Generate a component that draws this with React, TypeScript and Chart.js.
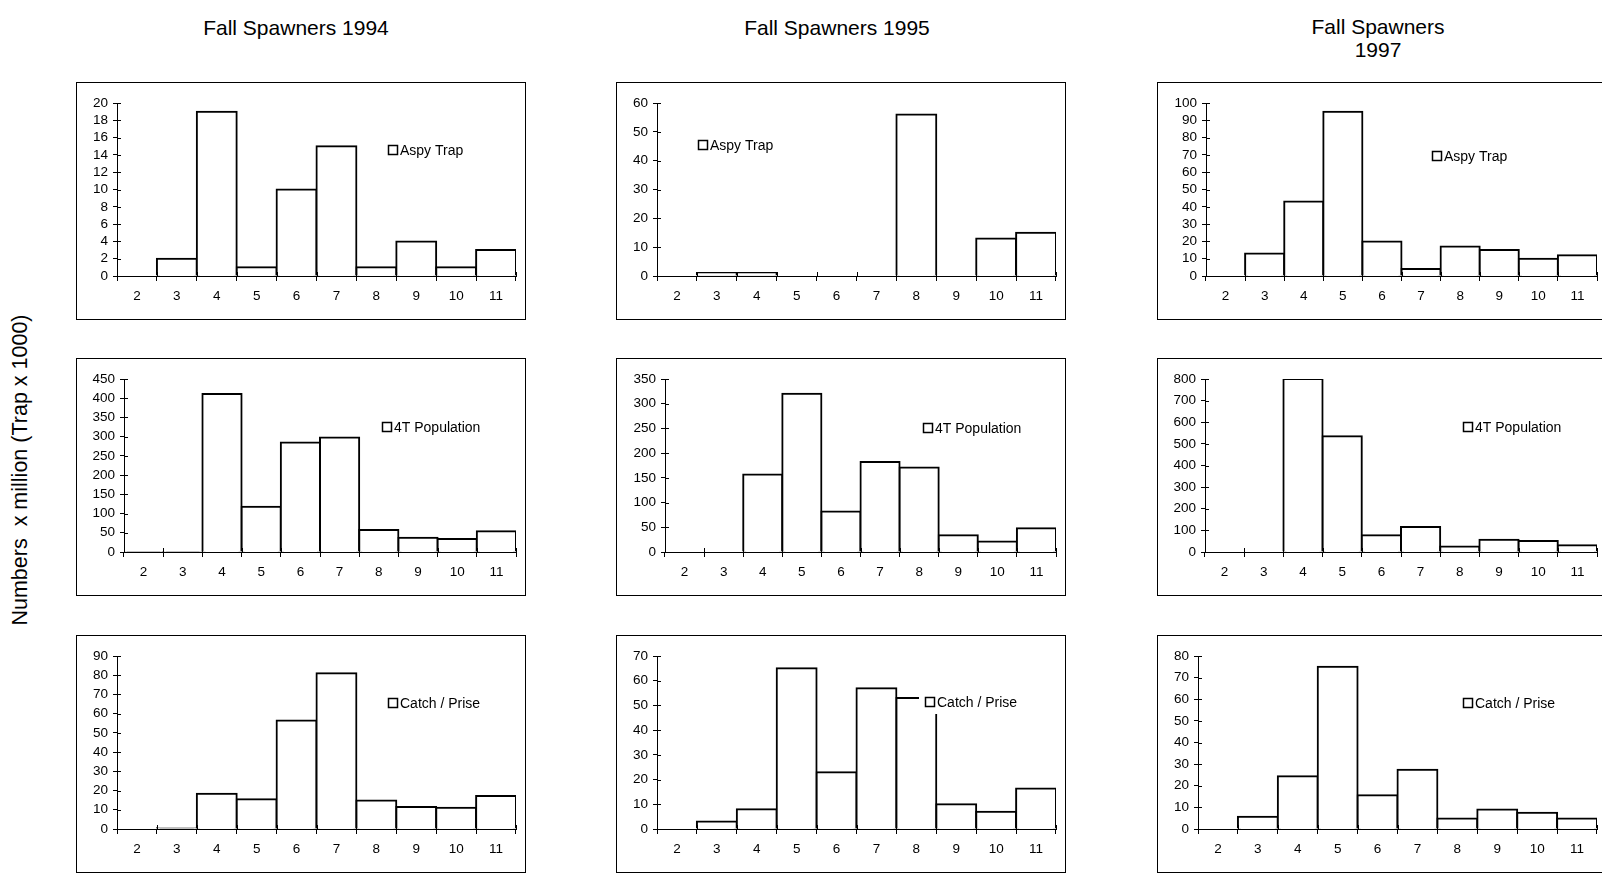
import React, { useEffect, useRef } from 'react';
import { Chart, registerables } from 'chart.js';

Chart.register(...registerables);

// Age classes on the horizontal axis
const AGES = ['2', '3', '4', '5', '6', '7', '8', '9', '10', '11'];

// Aspy trap counts (x 1000)
const TRAP_1994 = [0, 2, 19, 1, 10, 15, 1, 4, 1, 3];
const TRAP_1995 = [0, 1, 1, 0, 0, 0, 56, 0, 13, 15];
const TRAP_1997 = [0, 13, 43, 95, 20, 4, 17, 15, 10, 12];

// 4T population (millions)
const POP_1994 = [1, 1, 411, 118, 285, 298, 57, 37, 34, 54];
const POP_1995 = [0, 0, 157, 320, 82, 182, 171, 34, 21, 48];
const POP_1997 = [0, 0, 800, 535, 77, 116, 26, 57, 51, 31];

// Catch (millions)
const CATCH_1994 = [0, 0.4, 18.4, 15.5, 56.4, 81, 14.8, 11.4, 11, 17.2];
const CATCH_1995 = [0, 3, 8, 65, 23, 57, 53, 10, 7, 16.4];
const CATCH_1997 = [0, 5.7, 24.4, 75, 15.6, 27.4, 4.9, 9, 7.5, 4.8];

const SERIES_NAMES = ['Aspy Trap', '4T Population', 'Catch / Prise'];
const SERIES = [
  [TRAP_1994, TRAP_1995, TRAP_1997],
  [POP_1994, POP_1995, POP_1997],
  [CATCH_1994, CATCH_1995, CATCH_1997],
];
const Y_MAX = [[20, 60, 100], [450, 350, 800], [90, 70, 80]];
const Y_STEP = [[2, 10, 10], [50, 50, 100], [10, 10, 10]];

// Page layout
const FONT = '"Liberation Sans", Arial, Helvetica, sans-serif';
const TICK_SIZE = 13.5;
const LEGEND_SIZE = 14;
const COL_X = [76, 616, 1157];
const ROW_Y = [82, 358, 635];
const BOX_W = 450;
const BOX_H = 238;
const Y_AXIS_W = [[40, 40, 48], [47, 48, 47], [40, 40, 40]];
// legend marker left / centre y, in canvas pixels
const LEGEND_POS = [
  [[311, 67], [81, 62], [274, 73]],
  [[305, 68], [306, 69], [305, 68]],
  [[311, 67], [308, 66], [305, 67]],
];

// Tick marks that also reach into the plot area (crossing axis ticks)
const crossTicks = {
  id: 'crossTicks',
  afterDraw(chart: any) {
    const { ctx, chartArea, scales } = chart;
    const xs = scales.x;
    const ys = scales.y;
    ctx.save();
    ctx.strokeStyle = '#000';
    ctx.lineWidth = 1;
    ctx.beginPath();
    ys.ticks.forEach((_: any, i: number) => {
      const py = Math.round(ys.getPixelForTick(i)) + 0.5;
      ctx.moveTo(chartArea.left, py);
      ctx.lineTo(chartArea.left + 4, py);
    });
    for (let i = 0; i <= xs.ticks.length; i++) {
      const px = Math.round(xs.getPixelForValue(i - 0.5)) + 0.5;
      ctx.moveTo(px, chartArea.bottom);
      ctx.lineTo(px, chartArea.bottom - 4);
    }
    ctx.stroke();
    ctx.restore();
  },
};

// Small boxed legend placed inside the plot, with a white backing
const boxLegend = {
  id: 'boxLegend',
  afterDraw(chart: any, _args: any, opts: any) {
    const { ctx } = chart;
    const size = 9;
    const gap = 3;
    ctx.save();
    ctx.font = `${LEGEND_SIZE}px ${FONT}`;
    const tw = ctx.measureText(opts.text).width;
    ctx.fillStyle = '#fff';
    ctx.fillRect(opts.x - 6, opts.y - 12, size + gap + tw + 12, 24);
    ctx.strokeStyle = '#000';
    ctx.lineWidth = 1.5;
    ctx.strokeRect(opts.x + 0.5, opts.y - size / 2, size, size);
    ctx.fillStyle = '#000';
    ctx.textBaseline = 'middle';
    ctx.textAlign = 'left';
    ctx.fillText(opts.text, opts.x + size + gap, opts.y + 1);
    ctx.restore();
  },
};

function Panel({ row, col }: { row: number; col: number }) {
  const ref = useRef<HTMLCanvasElement | null>(null);

  useEffect(() => {
    if (!ref.current) return;
    const yWidth = Y_AXIS_W[row][col];
    const chart = new Chart(ref.current, {
      type: 'bar',
      data: {
        labels: AGES,
        datasets: [
          {
            label: SERIES_NAMES[row],
            data: SERIES[row][col],
            backgroundColor: '#ffffff',
            borderColor: '#000000',
            borderWidth: 2,
            borderSkipped: 'start',
            inflateAmount: 1,
            barPercentage: 1,
            categoryPercentage: 1,
          } as any,
        ],
      },
      options: {
        animation: false,
        responsive: false,
        maintainAspectRatio: false,
        events: [],
        layout: { padding: { top: 20, right: 9, left: 0, bottom: 0 } },
        plugins: {
          legend: { display: false },
          tooltip: { enabled: false },
          boxLegend: {
            text: SERIES_NAMES[row],
            x: LEGEND_POS[row][col][0],
            y: LEGEND_POS[row][col][1],
          },
        } as any,
        scales: {
          x: {
            offset: true,
            grid: {
              offset: true,
              drawOnChartArea: false,
              drawTicks: true,
              tickLength: 5,
              color: '#000',
              lineWidth: 1,
              z: 1,
            },
            border: { display: true, color: '#000', width: 1, z: 1 },
            ticks: {
              color: '#000',
              font: { family: FONT, size: TICK_SIZE },
              padding: 7,
              maxRotation: 0,
              autoSkip: false,
            },
            afterFit: (s: any) => {
              s.height = 43;
            },
          },
          y: {
            min: 0,
            max: Y_MAX[row][col],
            grid: {
              drawOnChartArea: false,
              drawTicks: true,
              tickLength: 4,
              color: '#000',
              lineWidth: 1,
              z: 1,
            },
            border: { display: true, color: '#000', width: 1, z: 1 },
            ticks: {
              stepSize: Y_STEP[row][col],
              autoSkip: false,
              color: '#000',
              font: { family: FONT, size: TICK_SIZE },
              padding: 5,
            },
            afterFit: (s: any) => {
              s.width = yWidth;
            },
          },
        } as any,
      },
      plugins: [crossTicks, boxLegend],
    });
    return () => chart.destroy();
  }, [row, col]);

  return (
    <div
      style={{
        position: 'absolute',
        left: COL_X[col],
        top: ROW_Y[row],
        width: BOX_W,
        height: BOX_H,
        border: '1px solid #000',
        boxSizing: 'border-box',
        background: '#fff',
      }}
    >
      <canvas
        ref={ref}
        width={BOX_W - 2}
        height={BOX_H - 2}
        style={{ display: 'block', width: BOX_W - 2, height: BOX_H - 2 }}
      />
    </div>
  );
}

const titleStyle: React.CSSProperties = {
  position: 'absolute',
  transform: 'translate(-50%, -50%)',
  fontFamily: FONT,
  fontSize: 21,
  color: '#000',
  whiteSpace: 'nowrap',
  textAlign: 'center',
  lineHeight: '23px',
};

export default function App() {
  const rows = [0, 1, 2];
  const cols = [0, 1, 2];
  return (
    <div
      style={{
        position: 'fixed',
        left: 0,
        top: 0,
        width: 1602,
        height: 878,
        overflow: 'hidden',
        background: '#fff',
      }}
    >
      <div style={{ ...titleStyle, left: 296, top: 27 }}>Fall Spawners 1994</div>
      <div style={{ ...titleStyle, left: 837, top: 27 }}>Fall Spawners 1995</div>
      <div style={{ ...titleStyle, left: 1378, top: 38 }}>
        Fall Spawners
        <br />
        1997
      </div>
      <div
        style={{
          ...titleStyle,
          fontSize: 21.5,
          left: 20,
          top: 470,
          transform: 'translate(-50%, -50%) rotate(-90deg)',
          whiteSpace: 'pre',
        }}
      >
        {'Numbers  x million (Trap x 1000)'}
      </div>
      {rows.map((r) => cols.map((c) => <Panel key={`${r}-${c}`} row={r} col={c} />))}
    </div>
  );
}
